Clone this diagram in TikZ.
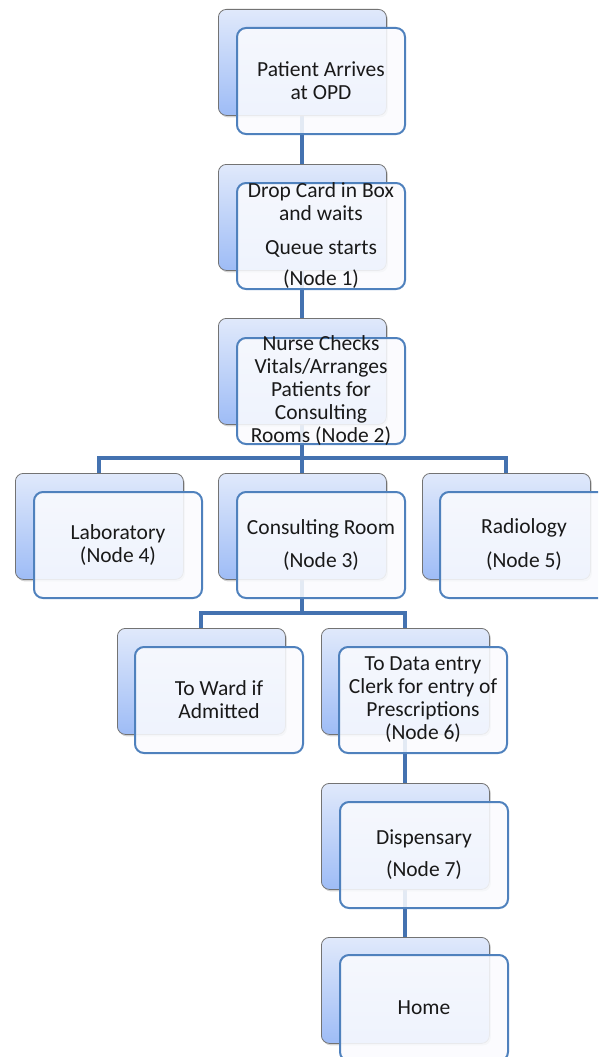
\documentclass[tikz,border=0pt]{standalone}
\usepackage{fontspec}
\setmainfont{Carlito}
\usetikzlibrary{shadows,backgrounds}
\definecolor{linec}{RGB}{68,114,176}
\definecolor{frontc}{RGB}{79,129,189}
\definecolor{backtop}{RGB}{224,233,251}
\definecolor{backbot}{RGB}{158,188,246}
\definecolor{txtc}{RGB}{25,25,25}
\tikzset{
  backbox/.style={anchor=north west, minimum width=168pt, minimum height=106pt,
    rounded corners=8pt, draw={rgb,255:red,115;green,115;blue,115}, line width=0.8pt,
    top color=backtop, bottom color=backbot,
    drop shadow={shadow xshift=1.5pt, shadow yshift=-2pt, opacity=0.35}},
  frontbox/.style={anchor=north west, minimum width=168pt, minimum height=106pt,
    rounded corners=9pt, draw=frontc, line width=2pt, fill={rgb,255:red,250;green,251;blue,254}, fill opacity=0.88},
  txt/.style={align=center, text=txtc, font=\fontsize{21.5}{23}\selectfont, inner sep=0pt},
  conn/.style={draw=linec, line width=4pt}
}
\begin{document}
\begin{tikzpicture}[x=1pt,y=-1pt]
\useasboundingbox (0,0) rectangle (598,1057);
\clip (0,0) rectangle (598,1057);
% row 1
\node[backbox] (aB) at (218,9) {};
\node[frontbox] (a) at (236,27) {};
\node[txt] (aT) at (a.center) {Patient Arrives\\at OPD};
% row 2
\node[backbox] (bB) at (218,164) {};
\node[frontbox] (b) at (236,182) {};
\node[txt] (bT) at (b.center) {Drop Card in Box\\and waits\\[11pt]Queue starts\\[8pt](Node 1)};
% row 3
\node[backbox] (cB) at (218,318) {};
\node[frontbox] (c) at (236,337) {};
\node[txt] (cT) at (c.center) {Nurse Checks\\Vitals/Arranges\\Patients for\\Consulting\\Rooms (Node 2)};
% row 4
\node[backbox] (labB) at (15,473) {};
\node[frontbox] (lab) at (33,491) {};
\node[txt] (labT) at (lab.center) {Laboratory\\(Node 4)};
\node[backbox] (conB) at (218,473) {};
\node[frontbox] (con) at (236,491) {};
\node[txt] (conT) at (con.center) {Consulting Room\\[10pt](Node 3)};
\node[backbox] (radB) at (422,473) {};
\node[frontbox] (rad) at (439,491) {};
\node[txt] (radT) at (rad.center) {Radiology\\[11pt](Node 5)};
% row 5
\node[backbox] (warB) at (117,628) {};
\node[frontbox] (war) at (134,646) {};
\node[txt] (warT) at (war.center) {To Ward if\\Admitted};
\node[backbox] (datB) at (321,628) {};
\node[frontbox] (dat) at (338,646) {};
\node[txt] (datT) at (dat.center) {To Data entry\\Clerk for entry of\\Prescriptions\\(Node 6)};
% row 6
\node[backbox] (disB) at (321,783) {};
\node[frontbox] (dis) at (339,801) {};
\node[txt] (disT) at (dis.center) {Dispensary\\[9pt](Node 7)};
% row 7
\node[backbox] (homB) at (321,937) {};
\node[frontbox] (hom) at (339,954) {};
\node[txt] (homT) at (hom.center) {Home};
% bus points
\coordinate (busL) at (labB.north |- 0,458);
\coordinate (busR) at (radB.north |- 0,458);
\coordinate (bus2C) at (conB.south |- 0,613);
\coordinate (bus2L) at (warB.north |- 0,613);
\coordinate (bus2R) at (datB.north |- 0,613);
% connectors
\begin{scope}[on background layer]
\draw[conn] (aB.south) -- (bB.north);
\draw[conn] (bB.south) -- (cB.north);
\draw[conn] (cB.south) -- (conB.north);
\draw[conn] (labB.north) -- (busL) -- (busR) -- (radB.north);
\draw[conn] (conB.south) -- (bus2C);
\draw[conn] (warB.north) -- (bus2L) -- (bus2R) -- (datB.north);
\draw[conn] (datB.south) -- (disB.north);
\draw[conn] (disB.south) -- (homB.north);
\end{scope}
\end{tikzpicture}
\end{document}
